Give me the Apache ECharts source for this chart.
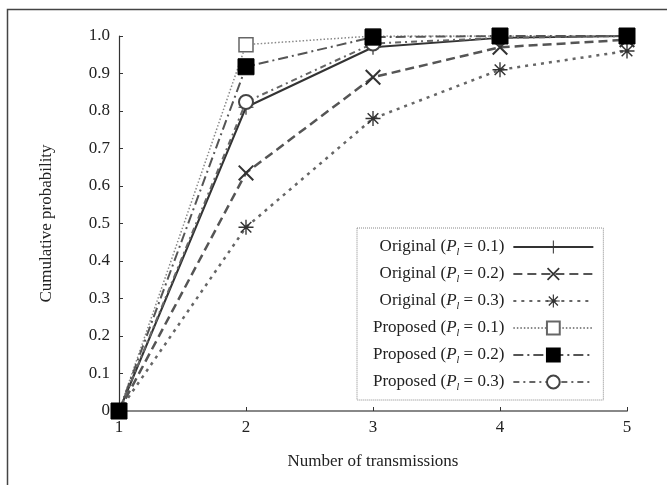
<!DOCTYPE html>
<html>
<head>
<meta charset="utf-8">
<script src="https://cdn.jsdelivr.net/npm/echarts@6/dist/echarts.min.js"></script>
<style>
html,body{margin:0;padding:0;background:#fff;}
#chart{width:667px;height:485px;}
</style>
</head>
<body>
<div id="chart"></div>
<script>
var xValues = [1, 2, 3, 4, 5];
var yTicks = [0, 0.1, 0.2, 0.3, 0.4, 0.5, 0.6, 0.7, 0.8, 0.9, 1.0];
var seriesNames = ['Original (Pl = 0.1)', 'Original (Pl = 0.2)', 'Original (Pl = 0.3)',
                   'Proposed (Pl = 0.1)', 'Proposed (Pl = 0.2)', 'Proposed (Pl = 0.3)'];
var original01 = [0, 0.81, 0.97, 0.995, 1.0];
var original02 = [0, 0.635, 0.89, 0.97, 0.99];
var original03 = [0, 0.49, 0.78, 0.91, 0.96];
var proposed01 = [0, 0.977, 1.0, 1.0, 1.0];
var proposed02 = [0, 0.918, 0.997, 1.0, 1.0];
var proposed03 = [0, 0.824, 0.98, 0.995, 1.0];

var PLUS = 'path://M-0.08,-1L0.08,-1L0.08,-0.08L1,-0.08L1,0.08L0.08,0.08L0.08,1L-0.08,1L-0.08,0.08L-1,0.08L-1,-0.08L-0.08,-0.08Z';
var CROSS = 'path://M-1,-0.82L-0.82,-1L1,0.82L0.82,1ZM0.82,-1L1,-0.82L-0.82,1L-1,0.82Z';
var STAR = 'path://M-0.09,-1L0.09,-1L0.09,-0.09L1,-0.09L1,0.09L0.09,0.09L0.09,1L-0.09,1L-0.09,0.09L-1,0.09L-1,-0.09L-0.09,-0.09Z' +
           'M-0.78,-0.64L-0.64,-0.78L0.78,0.64L0.64,0.78ZM0.64,-0.78L0.78,-0.64L-0.64,0.78L-0.78,0.64Z';

function pairs(arr) { return xValues.map(function (x, i) { return [x, arr[i]]; }); }

var chart = echarts.init(document.getElementById('chart'), null, {renderer: 'canvas'});
var font = 'Liberation Serif';

function mk(name, data, symbol, size, lineColor, lineWidth, dash, itemStyle, z) {
  return {
    name: name, type: 'line', data: pairs(data),
    symbol: symbol, symbolSize: size, showAllSymbol: true,
    lineStyle: {color: lineColor, width: lineWidth, type: dash},
    itemStyle: itemStyle, z: z || 2, animation: false
  };
}

var legendLabels = {};
legendLabels[seriesNames[0]] = 'Original ({i|P}{s|l} = 0.1)';
legendLabels[seriesNames[1]] = 'Original ({i|P}{s|l} = 0.2)';
legendLabels[seriesNames[2]] = 'Original ({i|P}{s|l} = 0.3)';
legendLabels[seriesNames[3]] = 'Proposed ({i|P}{s|l} = 0.1)';
legendLabels[seriesNames[4]] = 'Proposed ({i|P}{s|l} = 0.2)';
legendLabels[seriesNames[5]] = 'Proposed ({i|P}{s|l} = 0.3)';

chart.setOption({
  backgroundColor: '#fff',
  animation: false,
  textStyle: {fontFamily: font},
  graphic: [{
    type: 'rect', shape: {x: 7.5, y: 9.5, width: 700, height: 500},
    style: {fill: 'none', stroke: '#444', lineWidth: 1.5}, silent: true
  }],
  grid: {left: 119, right: 40, top: 36, bottom: 74},
  xAxis: {
    type: 'value', min: 1, max: 5, interval: 1,
    name: 'Number of transmissions', nameLocation: 'middle', nameGap: 42,
    nameTextStyle: {fontFamily: font, fontSize: 17, color: '#222'},
    axisLine: {lineStyle: {color: '#888', width: 2}},
    axisTick: {inside: true, length: 4, lineStyle: {color: '#333', width: 1}},
    axisLabel: {fontFamily: font, fontSize: 17, color: '#222', margin: 8},
    splitLine: {show: false}
  },
  yAxis: {
    type: 'value', min: 0, max: 1, interval: 0.1,
    name: 'Cumulative probability', nameLocation: 'middle', nameGap: 64,
    nameTextStyle: {fontFamily: font, fontSize: 17, color: '#222'},
    axisLine: {lineStyle: {color: '#333', width: 1.2}},
    axisTick: {inside: true, length: 4, lineStyle: {color: '#333', width: 1}},
    axisLabel: {fontFamily: font, fontSize: 17, color: '#222', margin: 9,
      formatter: function (v) {
        var t = yTicks.find(function (k) { return Math.abs(k - v) < 1e-6; });
        return t === 0 ? '0' : t.toFixed(1);
      }},
    splitLine: {show: false}
  },
  legend: {
    orient: 'vertical', align: 'right',
    left: 357, top: 228,
    padding: [9, 9, 8, 16],
    itemWidth: 80, itemHeight: 16, itemGap: 7,
    borderColor: '#888', borderWidth: 1, borderType: 'dotted',
    backgroundColor: '#fff',
    data: seriesNames,
    formatter: function (name) { return legendLabels[name]; },
    textStyle: {
      fontFamily: font, fontSize: 17, color: '#222', lineHeight: 20, padding: [0, 4, 0, 0],
      rich: {
        i: {fontFamily: font, fontSize: 17, fontStyle: 'italic', color: '#222', lineHeight: 20},
        s: {fontFamily: font, fontSize: 10, fontStyle: 'italic', color: '#222', verticalAlign: 'bottom', lineHeight: 14}
      }
    }
  },
  series: [
    mk(seriesNames[0], original01, PLUS, 15, '#333', 2, 'solid', {color: '#333'}, 3),
    mk(seriesNames[1], original02, CROSS, 16, '#555', 2.5, [9, 5], {color: '#333'}, 3),
    mk(seriesNames[2], original03, STAR, 15, '#666', 2.5, [3, 5], {color: '#333'}, 3),
    mk(seriesNames[3], proposed01, 'rect', 14, '#888', 1.5, [1.5, 2], {color: '#fff', borderColor: '#666', borderWidth: 1.5}, 4),
    mk(seriesNames[4], proposed02, 'rect', 16, '#555', 2, [10, 4, 2, 4], {color: '#000', borderColor: '#000', borderWidth: 1}, 6),
    mk(seriesNames[5], proposed03, 'emptyCircle', 14, '#666', 2, [6, 4, 2, 4], {color: '#444', borderColor: '#444', borderWidth: 2.2}, 5)
  ]
});
</script>
</body>
</html>
